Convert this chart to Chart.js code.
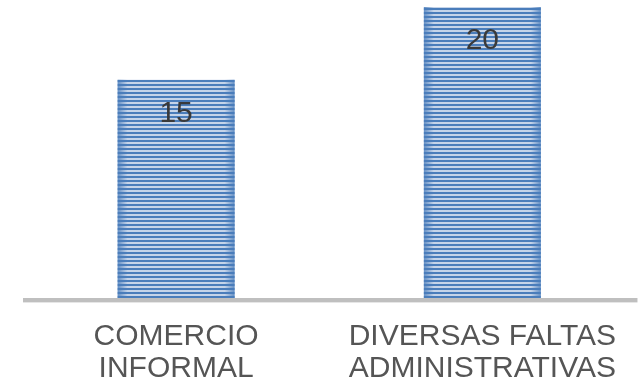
<!DOCTYPE html>
<html>
<head>
<meta charset="utf-8">
<script src="https://cdn.jsdelivr.net/npm/chart.js@4/dist/chart.umd.min.js"></script>
<style>
  html, body { margin: 0; padding: 0; background: #fff; }
  #wrap { width: 639px; height: 389px; position: relative; }
</style>
</head>
<body>
<div id="wrap"><canvas id="chart"></canvas></div>
<script>
const categories = [['COMERCIO', 'INFORMAL'], ['DIVERSAS FALTAS', 'ADMINISTRATIVAS']];
const values = [15, 20];
const yMax = 20;

// striped fill like the office pattern
function stripePattern() {
  const c = document.createElement('canvas');
  c.width = 4; c.height = 4;
  const g = c.getContext('2d');
  g.fillStyle = '#c5d4e9';
  g.fillRect(0, 0, 4, 4);
  g.fillStyle = '#4a7dbb';
  g.fillRect(0, 0, 4, 2);
  return g.createPattern(c, 'repeat');
}

const edgeShade = {
  id: 'edgeShade',
  afterDatasetsDraw(chart) {
    const ctx = chart.ctx;
    chart.getDatasetMeta(0).data.forEach(bar => {
      const left = bar.x - bar.width / 2, right = bar.x + bar.width / 2;
      const top = bar.y, h = bar.base - bar.y;
      let gr = ctx.createLinearGradient(left, 0, left + 10, 0);
      gr.addColorStop(0, 'rgba(74,125,187,0.8)');
      gr.addColorStop(1, 'rgba(74,125,187,0)');
      ctx.fillStyle = gr;
      ctx.fillRect(left, top, 10, h);
      gr = ctx.createLinearGradient(right, 0, right - 10, 0);
      gr.addColorStop(0, 'rgba(74,125,187,0.8)');
      gr.addColorStop(1, 'rgba(74,125,187,0)');
      ctx.fillStyle = gr;
      ctx.fillRect(right - 10, top, 10, h);
    });
  }
};

const valueLabels = {
  id: 'valueLabels',
  afterDatasetsDraw(chart) {
    const ctx = chart.ctx;
    ctx.save();
    ctx.font = '30px "Liberation Sans", Arial, sans-serif';
    ctx.fillStyle = '#3a3a3a';
    ctx.textAlign = 'center';
    ctx.textBaseline = 'middle';
    chart.getDatasetMeta(0).data.forEach((bar, i) => {
      ctx.fillText(String(values[i]), bar.x, bar.y + 34);
    });
    ctx.restore();
  }
};

const baseLine = {
  id: 'baseLine',
  afterDatasetsDraw(chart) {
    const { ctx, chartArea } = chart;
    ctx.save();
    ctx.fillStyle = '#bfbfbf';
    ctx.fillRect(chartArea.left, chartArea.bottom, chartArea.right - chartArea.left + 2, 4);
    ctx.fillStyle = '#e6e6e6';
    ctx.fillRect(chartArea.left, chartArea.bottom + 4, chartArea.right - chartArea.left + 2, 1);
    ctx.restore();
  }
};

new Chart(document.getElementById('chart'), {
  type: 'bar',
  data: {
    labels: categories,
    datasets: [{
      data: values,
      backgroundColor: stripePattern(),
      borderWidth: 0,
      barPercentage: 0.382,
      categoryPercentage: 1
    }]
  },
  options: {
    responsive: true,
    maintainAspectRatio: false,
    animation: false,
    layout: { padding: { left: 23, top: 7, right: 0, bottom: 0 } },
    plugins: { legend: { display: false }, tooltip: { enabled: false } },
    scales: {
      x: {
        grid: { display: false, drawTicks: false },
        border: { display: false },
        ticks: {
          color: '#555555',
          padding: 23,
          maxRotation: 0,
          autoSkip: false,
          font: { family: '"Liberation Sans", Arial, sans-serif', size: 30, lineHeight: 1.05 }
        },
        afterFit(scale) { scale.height = 91; }
      },
      y: { display: false, min: 0, max: yMax }
    }
  },
  plugins: [edgeShade, baseLine, valueLabels]
});
</script>
</body>
</html>
